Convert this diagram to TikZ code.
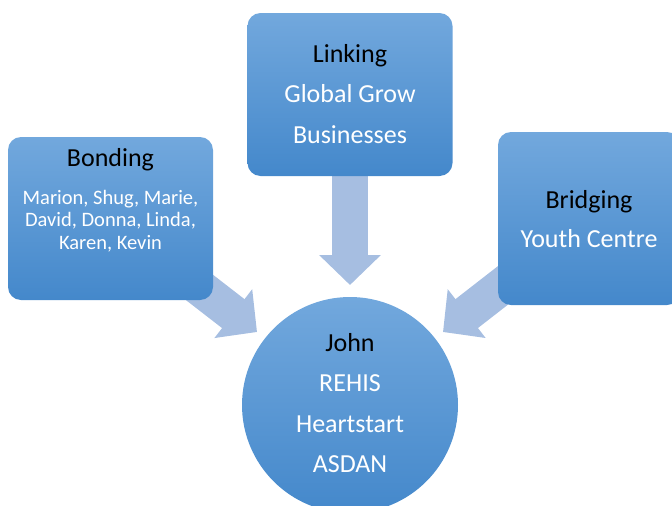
\documentclass[tikz,border=0pt]{standalone}
\usepackage{fontspec}
\setmainfont{Carlito}
\usetikzlibrary{positioning,arrows.meta,backgrounds}

\definecolor{boxtop}{RGB}{114,168,221}
\definecolor{boxbot}{RGB}{68,136,203}
\definecolor{arrowblue}{RGB}{166,190,225}

\begin{document}
\begin{tikzpicture}[x=1pt,y=-1pt,
                box/.style={rectangle, rounded corners=13pt, top color=boxtop, bottom color=boxbot, minimum width=205pt, minimum height=163pt, inner sep=0pt},
                hub/.style={circle, top color=boxtop, bottom color=boxbot, minimum size=216pt, inner sep=0pt},
                title/.style={anchor=base, font=\fontsize{26}{30}\selectfont, text=black},
                entry/.style={anchor=base, font=\fontsize{26}{30}\selectfont, text=white},
                names/.style={anchor=base, font=\fontsize{20.5}{24}\selectfont, text=white},
                bigarrow/.style={line width=36.6pt, draw=arrowblue, -{Triangle[width=60pt,length=30pt]}},]
    \useasboundingbox (0,0) rectangle (672,506);

    % the four shapes
    \node[box] (bond) at (110.5,218.5) {};
    \node[box] (link) at (350,94.5) {};
    \node[box, minimum width=182pt, minimum height=173pt] (bridge) at (589,218.5) {};
    \node[hub] (john) at (350,405) {};

    % texts
    \node[title] (bondT) at (110.5,166.5) {Bonding};
    \node[names] (bondA) at (110.5,204) {Marion, Shug, Marie,};
    \node[names] (bondB) at (110.5,226.7) {David, Donna, Linda,};
    \node[names] (bondC) at (110.5,249) {Karen, Kevin};

    \node[title] (linkT) at (350,62) {Linking};
    \node[entry] (linkA) at (350,102.5) {Global Grow};
    \node[entry] (linkB) at (350,143) {Businesses};

    \node[title] (bridgeT) at (589,208) {Bridging};
    \node[entry] (bridgeA) at (589,247) {Youth Centre};

    \node[title] (johnT) at (350,351.7) {John};
    \node[entry] (johnA) at (350,391.7) {REHIS};
    \node[entry] (johnB) at (350,432.7) {Heartstart};
    \node[entry] (johnC) at (350,472.7) {ASDAN};

    % block arrows behind the boxes
    \coordinate (tipL) at (257,332);
    \coordinate (tipM) at (350,285);
    \coordinate (tipR) at (443,332);
    \begin{scope}[on background layer]
        \draw[bigarrow] (bond.center) -- (tipL);
        \draw[bigarrow] (link.center) -- (tipM);
        \draw[bigarrow] (bridge.center) -- (tipR);
    \end{scope}
\end{tikzpicture}
\end{document}
